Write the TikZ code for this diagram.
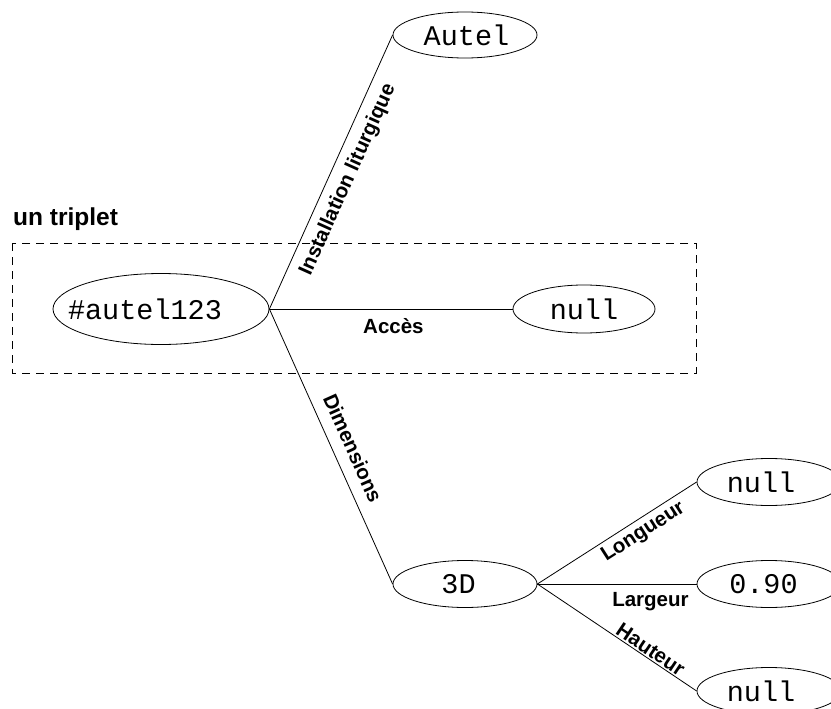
\documentclass[tikz,border=0pt]{standalone}
\usepackage{fontspec}
\setmainfont{Liberation Sans}
\newfontfamily\monof{Liberation Mono}
\usetikzlibrary{shapes.geometric}
\tikzset{
  val/.style={draw, ellipse, line width=0.8pt, inner sep=0pt, minimum width=144pt, minimum height=47pt, font=\monof\fontsize{28.5}{30}\selectfont},
  edge/.style={line width=0.8pt},
  lab/.style={font=\bfseries\fontsize{20.5}{24}\selectfont, inner sep=0pt, anchor=base},
  framebox/.style={dash pattern=on 8pt off 6pt, line width=0.8pt}
}
\begin{document}
\begin{tikzpicture}[x=1pt,y=-1pt]
\clip (0,0) rectangle (831,709);
\fill[white] (0,0) rectangle (831,709);
% triplet frame
\draw[framebox] (12,243) rectangle (696,373);
\node[font=\bfseries\fontsize{24.5}{28}\selectfont, inner sep=0pt, anchor=base west] (title) at (13,225) {un triplet};
% nodes
\node[val, minimum width=216pt, minimum height=71pt] (s) at (161,309) {\hspace*{-32pt}\#autel123};
\node[val, minimum height=46pt] (autel) at (465,35) {\hspace*{3pt}Autel};
\node[val, minimum width=142pt, minimum height=48pt] (acc) at (584,309) {null};
\node[val] (dd) at (465,584) {\hspace*{-13pt}3D};
\node[val] (lon) at (769,482) {\hspace*{-16pt}null};
\node[val] (lar) at (769,584) {\hspace*{-11pt}0.90};
\node[val] (hau) at (769,691) {\hspace*{-16pt}null};
% edges
\draw[edge] (s.east) -- node[lab, sloped, pos=0.5]{\raisebox{-24pt}{Installation liturgique}} (autel.west);
\draw[edge] (s.east) -- node[lab, pos=0.51]{\raisebox{-24pt}{Accès}} (acc.west);
\draw[edge] (s.east) -- node[lab, sloped, pos=0.535]{\raisebox{12pt}{Dimensions}} (dd.west);
\draw[edge] (dd.east) -- node[lab, sloped, pos=0.62]{\raisebox{-18.5pt}{Longueur}} (lon.west);
\draw[edge] (dd.east) -- node[lab, pos=0.71]{\raisebox{-22pt}{Largeur}} (lar.west);
\draw[edge] (dd.east) -- node[lab, sloped, pos=0.68]{\raisebox{2pt}{Hauteur}} (hau.west);
\end{tikzpicture}
\end{document}
